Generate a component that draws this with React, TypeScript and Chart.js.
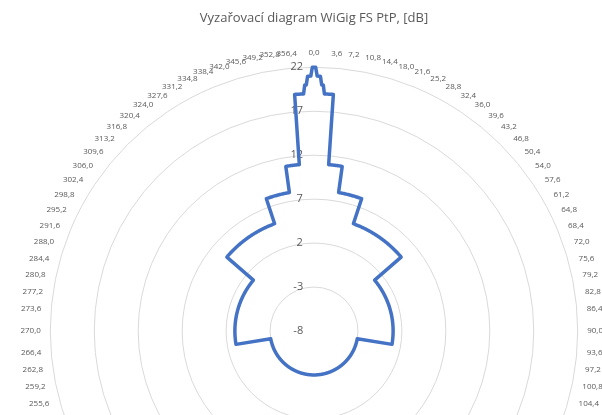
import React, { useEffect, useRef } from 'react';
import { Chart, registerables } from 'chart.js';

Chart.register(...registerables);

const chartTitle = 'Vyzařovací diagram WiGig FS PtP, [dB]';

// Angular categories: 1000 steps of 0.36°, a label every 3.6°
const angleStepDeg = 0.36;
const angleCount = 1000;
const labelEvery = 10;

// Radial axis
const axisMin = -8;
const axisMax = 22;
const axisStep = 5;

// Radiation pattern (symmetric about 0°):
// gain level [dB] and the angle off boresight [°] up to which it holds
const levelGainDb = [22, 21, 20, 19, 11, 8, 5, 1, -3];
const levelEdgeDeg = [0.4, 1.5, 2.2, 5.0, 10.0, 20.0, 50.0, 100.0, 180.0];

const FONT = 'Open Sans';
const TEXT_COLOR = '#595959';
const GRID_COLOR = '#D9D9D9';
const LINE_COLOR = '#4472C4';
const TICK_SIZE = 11;

const angles = Array.from({ length: angleCount }, (_, i) => i * angleStepDeg);
const categoryLabels = angles.map((a, i) =>
  i % labelEvery === 0 ? a.toFixed(1).replace('.', ',') : ''
);
const gainSeries = angles.map((a) => {
  const off = a > 180 ? 360 - a : a;
  const k = levelEdgeDeg.findIndex((edge) => off <= edge + 1e-9);
  return levelGainDb[k];
});

let measurer: CanvasRenderingContext2D | null = null;
function rightAlignedTick(text: string, gap: number) {
  if (!measurer) measurer = document.createElement('canvas').getContext('2d');
  if (!measurer) return text;
  measurer.font = `normal 400 ${TICK_SIZE}px ${FONT}`;
  const w = measurer.measureText(text).width;
  const s = measurer.measureText(' ').width || 3;
  const n = Math.max(0, Math.round((w + 2 * gap) / s));
  return text + ' '.repeat(n);
}

export default function App() {
  const ref = useRef<HTMLCanvasElement>(null);

  useEffect(() => {
    const canvas = ref.current;
    if (!canvas) return;
    const chart = new Chart(canvas, {
      type: 'radar',
      data: {
        labels: categoryLabels,
        datasets: [
          {
            data: gainSeries,
            borderColor: LINE_COLOR,
            borderWidth: 3.5,
            pointRadius: 0,
            pointHoverRadius: 0,
            fill: false,
            tension: 0,
            borderJoinStyle: 'round',
          },
        ],
      },
      options: {
        responsive: false,
        animation: false,
        events: [],
        layout: { padding: { left: -6, right: -6, top: 0, bottom: 0 } },
        plugins: {
          legend: { display: false },
          tooltip: { enabled: false },
          title: {
            display: true,
            text: chartTitle,
            color: TEXT_COLOR,
            font: { family: FONT, size: 13, weight: 'normal' },
            padding: { top: 10, bottom: 22.6 },
          },
        },
        scales: {
          r: {
            min: axisMin,
            max: axisMax,
            beginAtZero: false,
            angleLines: { display: false },
            grid: { circular: true, color: GRID_COLOR, lineWidth: 1 },
            ticks: {
              stepSize: axisStep,
              color: TEXT_COLOR,
              font: { family: FONT, size: TICK_SIZE },
              showLabelBackdrop: false,
              backdropPadding: 0,
              callback: (v: any) => rightAlignedTick(String(v), 10.5),
            },
            pointLabels: {
              display: true,
              color: TEXT_COLOR,
              font: { family: FONT, size: 8 },
              padding: 4,
            },
          },
        },
      },
    });
    return () => chart.destroy();
  }, []);

  return (
    <div
      style={{
        position: 'fixed',
        left: 0,
        top: 0,
        width: 602,
        height: 415,
        overflow: 'hidden',
        background: '#ffffff',
      }}
    >
      <canvas
        ref={ref}
        width={628}
        height={615}
        style={{ display: 'block', width: 628, height: 615 }}
      />
    </div>
  );
}
